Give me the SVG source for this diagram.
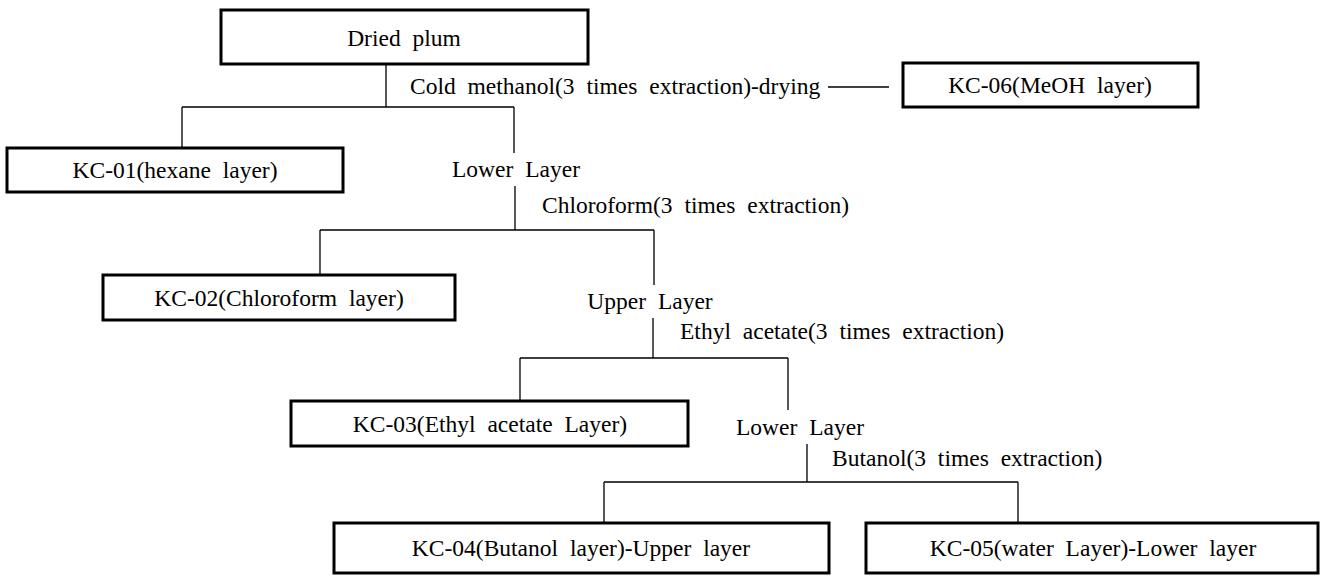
<svg xmlns="http://www.w3.org/2000/svg" width="1322" height="578" viewBox="0 0 1322 578">
<style>
.box{fill:#fff;stroke:#000;stroke-width:3}
.t{font-family:"Liberation Serif","Times New Roman",serif;font-size:23.5px;fill:#000;word-spacing:6px}
.c{text-anchor:middle}
.ln{stroke:#000;stroke-width:1.3;fill:none}
</style>
<rect width="1322" height="578" fill="#fff"/>
<g id="connectors">
<path class="ln" d="M386,64V107M182,107H514M182,107V148M514,107V153"/>
<path class="ln" d="M828,87H889"/>
<path class="ln" d="M515,186V230M320,230H654M320,230V275M654,230V285"/>
<path class="ln" d="M653,318V358M520,358H788M520,358V401M788,358V410"/>
<path class="ln" d="M807,444V482M604,482H1018M604,482V523M1018,482V523"/>
</g>
<g id="labels">
<text class="t" x="410" y="94">Cold methanol(3 times extraction)-drying</text>
<text class="t c" x="516" y="177">Lower Layer</text>
<text class="t" x="542" y="213">Chloroform(3 times extraction)</text>
<text class="t c" x="650" y="309">Upper Layer</text>
<text class="t" x="680" y="339">Ethyl acetate(3 times extraction)</text>
<text class="t c" x="800" y="435">Lower Layer</text>
<text class="t" x="832" y="466">Butanol(3 times extraction)</text>
</g>
<g id="dried-plum"><rect class="box" x="221" y="10" width="367" height="54"/><text class="t c" x="404" y="46">Dried plum</text></g>
<g id="kc-06"><rect class="box" x="903" y="63" width="295" height="44"/><text class="t c" x="1050" y="93">KC-06(MeOH layer)</text></g>
<g id="kc-01"><rect class="box" x="7" y="148" width="336" height="44"/><text class="t c" x="175" y="178">KC-01(hexane layer)</text></g>
<g id="kc-02"><rect class="box" x="103" y="275" width="352" height="45"/><text class="t c" x="279" y="306">KC-02(Chloroform layer)</text></g>
<g id="kc-03"><rect class="box" x="291" y="401" width="397" height="45"/><text class="t c" x="490" y="432">KC-03(Ethyl acetate Layer)</text></g>
<g id="kc-04"><rect class="box" x="334" y="523" width="495" height="50"/><text class="t c" x="581" y="556">KC-04(Butanol layer)-Upper layer</text></g>
<g id="kc-05"><rect class="box" x="866" y="523" width="452" height="50"/><text class="t c" x="1093" y="556">KC-05(water Layer)-Lower layer</text></g>
</svg>
